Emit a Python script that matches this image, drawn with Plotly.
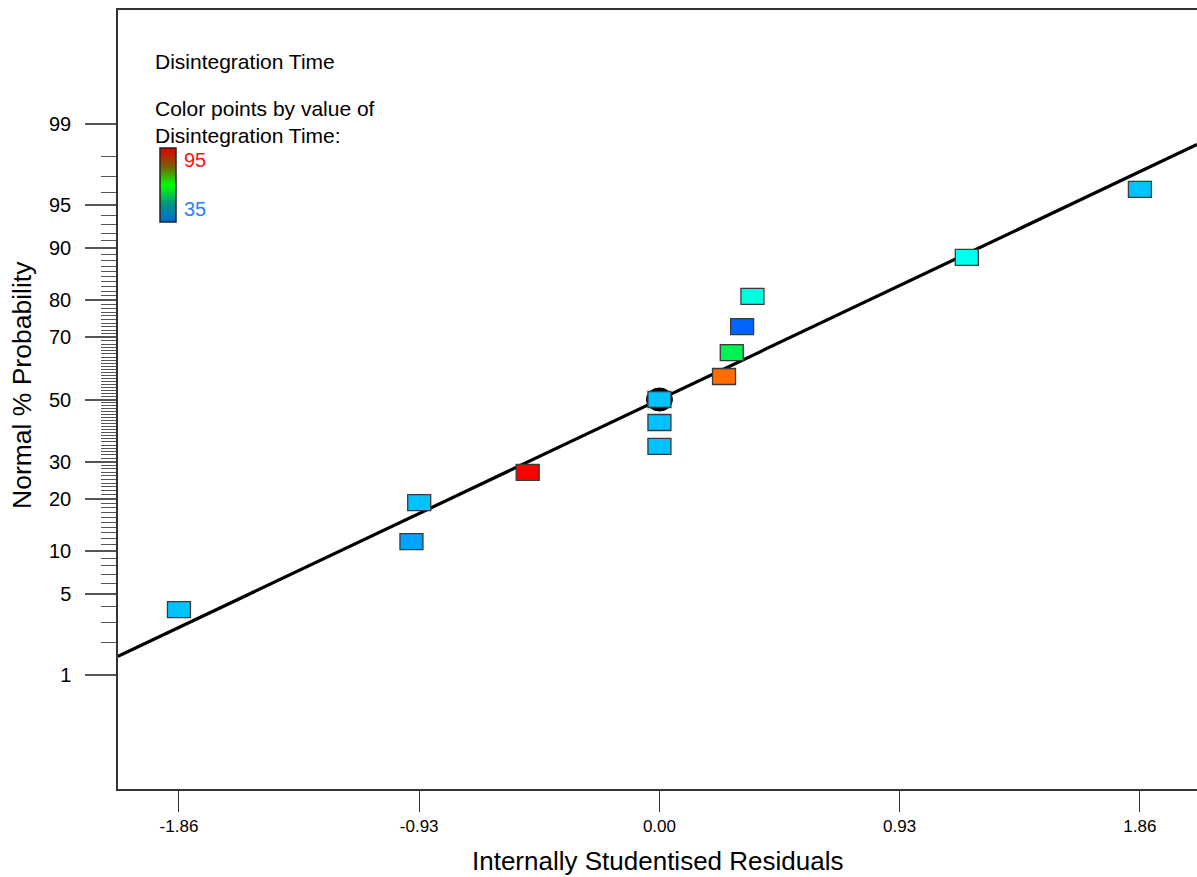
from statistics import NormalDist

import plotly.graph_objects as go
from plotly.colors import sample_colorscale

# Internally studentised residuals, sorted ascending
residuals = [-1.86, -0.96, -0.93, -0.51, 0.00, 0.00, 0.00, 0.25, 0.28, 0.32, 0.36, 1.19, 1.86]
# Normal % probability of each ranked residual
probabilities = [3.8, 11.5, 19.2, 26.9, 34.6, 42.3, 50.0, 57.7, 65.4, 73.1, 80.8, 88.5, 96.2]
# Observed response used to colour each point
disintegration_time = [42, 40, 42, 95, 42, 42, 42, 88, 57, 36, 48, 47, 42]
time_min, time_max = 35, 95

# Reference normal line: z = slope * residual
fit_slope = 1.035

# Probability axis labels
major_probs = [1, 5, 10, 20, 30, 50, 70, 80, 90, 95, 99]
minor_probs = [p for p in range(1, 100) if p not in major_probs]
x_tick_vals = [-1.86, -0.93, 0.00, 0.93, 1.86]
x_tick_text = ["-1.86", "-0.93", "0.00", "0.93", "1.86"]

nd = NormalDist()


def probit(pct):
    return nd.inv_cdf(pct / 100.0)


# Hue sweep (blue -> cyan -> green -> yellow -> red) for the points
point_scale = [
    [0.0, "rgb(0,85,255)"],
    [0.0909, "rgb(0,170,255)"],
    [0.1818, "rgb(0,255,255)"],
    [0.2727, "rgb(0,255,170)"],
    [0.3636, "rgb(0,240,85)"],
    [0.4545, "rgb(0,255,0)"],
    [0.5455, "rgb(85,255,0)"],
    [0.6364, "rgb(170,255,0)"],
    [0.7273, "rgb(255,255,0)"],
    [0.8182, "rgb(255,170,0)"],
    [0.9091, "rgb(255,85,0)"],
    [1.0, "rgb(255,0,0)"],
]
# Gradient shown in the small key bar
bar_scale = [
    [0.0, "rgb(0,105,215)"],
    [0.25, "rgb(0,150,130)"],
    [0.5, "rgb(0,255,0)"],
    [0.75, "rgb(120,95,0)"],
    [1.0, "rgb(225,0,0)"],
]

z_vals = [probit(p) for p in probabilities]
norm_vals = [(v - time_min) / (time_max - time_min) for v in disintegration_time]
point_colors = sample_colorscale(point_scale, norm_vals)

# Plot-area geometry in pixels
W, H = 1197, 877
L, R, T, B = 118, 0, 10, 88
PW, PH = W - L - R, H - T - B


def px_x(p):
    return (p - L) / PW


def px_y(p):
    return (H - B - p) / PH


x_range = [-2.096, 2.081]
y_range = [-3.29, 3.29]

fig = go.Figure()

# Normal reference line
fig.add_trace(go.Scatter(
    x=x_range,
    y=[fit_slope * x_range[0], fit_slope * x_range[1]],
    mode="lines",
    line=dict(color="black", width=3.2),
    hoverinfo="skip",
    showlegend=False,
))

# Hover carrier + colour key
fig.add_trace(go.Scatter(
    x=residuals,
    y=z_vals,
    mode="markers",
    marker=dict(
        size=18,
        opacity=0,
        color=disintegration_time,
        cmin=time_min,
        cmax=time_max,
        colorscale=bar_scale,
        showscale=True,
        colorbar=dict(
            x=px_x(160), xanchor="left",
            y=px_y(185), yanchor="middle",
            len=74, lenmode="pixels",
            thickness=16, thicknessmode="pixels",
            outlinewidth=1.5, outlinecolor="#222222",
            showticklabels=False, ticks="",
            xpad=0, ypad=0,
        ),
    ),
    customdata=[[p, t] for p, t in zip(probabilities, disintegration_time)],
    hovertemplate="Residual: %{x:.2f}<br>Probability: %{customdata[0]}%<br>"
                  "Disintegration Time: %{customdata[1]}<extra></extra>",
    showlegend=False,
))

shapes = []
# Marker ring behind the median point
for x, z, p in zip(residuals, z_vals, probabilities):
    if p == 50.0:
        shapes.append(dict(
            type="circle", xref="x", yref="y",
            xsizemode="pixel", ysizemode="pixel",
            xanchor=x, yanchor=z,
            x0=-13, x1=13, y0=-11.5, y1=11.5,
            fillcolor="black", line=dict(color="black", width=1),
            layer="above",
        ))
# Rectangular point markers
for x, z, c in zip(residuals, z_vals, point_colors):
    shapes.append(dict(
        type="rect", xref="x", yref="y",
        xsizemode="pixel", ysizemode="pixel",
        xanchor=x, yanchor=z,
        x0=-11.5, x1=11.5, y0=-8, y1=8,
        fillcolor=c, line=dict(color="#3a3a3a", width=1.3),
        layer="above",
    ))

FAMILY = "Liberation Sans, Arial, sans-serif"
label_font = dict(family=FAMILY, size=21, color="black")

annotations = [
    dict(text="Disintegration Time", x=px_x(153), y=px_y(61),
         xanchor="left", yanchor="middle", font=label_font),
    dict(text="Color points by value of<br>Disintegration Time:", x=px_x(153), y=px_y(122),
         xanchor="left", yanchor="middle", align="left", font=label_font),
    dict(text=str(time_max), x=px_x(182), y=px_y(160), xanchor="left", yanchor="middle",
         font=dict(family=FAMILY, size=20, color="#ff1010")),
    dict(text=str(time_min), x=px_x(182), y=px_y(209), xanchor="left", yanchor="middle",
         font=dict(family=FAMILY, size=20, color="#2a80ff")),
    dict(text="Normal % Probability", x=px_x(22), y=px_y(385), textangle=-90,
         xanchor="center", yanchor="middle",
         font=dict(family=FAMILY, size=26.5, color="black")),
    dict(text="Internally Studentised Residuals", x=px_x(657), y=px_y(861),
         xanchor="center", yanchor="middle",
         font=dict(family=FAMILY, size=26, color="black")),
]
for a in annotations:
    a.update(xref="paper", yref="paper", showarrow=False)

fig.update_layout(
    width=W, height=H,
    margin=dict(l=L, r=R, t=T, b=B, pad=0),
    paper_bgcolor="white", plot_bgcolor="white",
    shapes=shapes,
    annotations=annotations,
    showlegend=False,
    xaxis=dict(
        range=x_range,
        tickmode="array", tickvals=x_tick_vals, ticktext=x_tick_text,
        ticks="outside", ticklen=21, tickwidth=1, tickcolor="#333333",
        tickfont=dict(family=FAMILY, size=17, color="black"),
        showgrid=False, zeroline=False,
        showline=True, linecolor="#333333", linewidth=1.5, mirror=True,
    ),
    yaxis=dict(
        range=y_range,
        tickmode="array",
        tickvals=[probit(p) for p in major_probs],
        ticktext=[str(p) for p in major_probs],
        ticks="outside", ticklen=31, tickwidth=1.5, tickcolor="#555555",
        tickfont=dict(family=FAMILY, size=20, color="black"),
        ticklabelstandoff=10,
        minor=dict(
            tickmode="array",
            tickvals=[probit(p) for p in minor_probs],
            ticks="outside", ticklen=15, tickwidth=1.2, tickcolor="#555555",
            showgrid=False,
        ),
        showgrid=False, zeroline=False,
        showline=True, linecolor="#333333", linewidth=1.5, mirror=False,
    ),
)

fig.write_html("out.html")
